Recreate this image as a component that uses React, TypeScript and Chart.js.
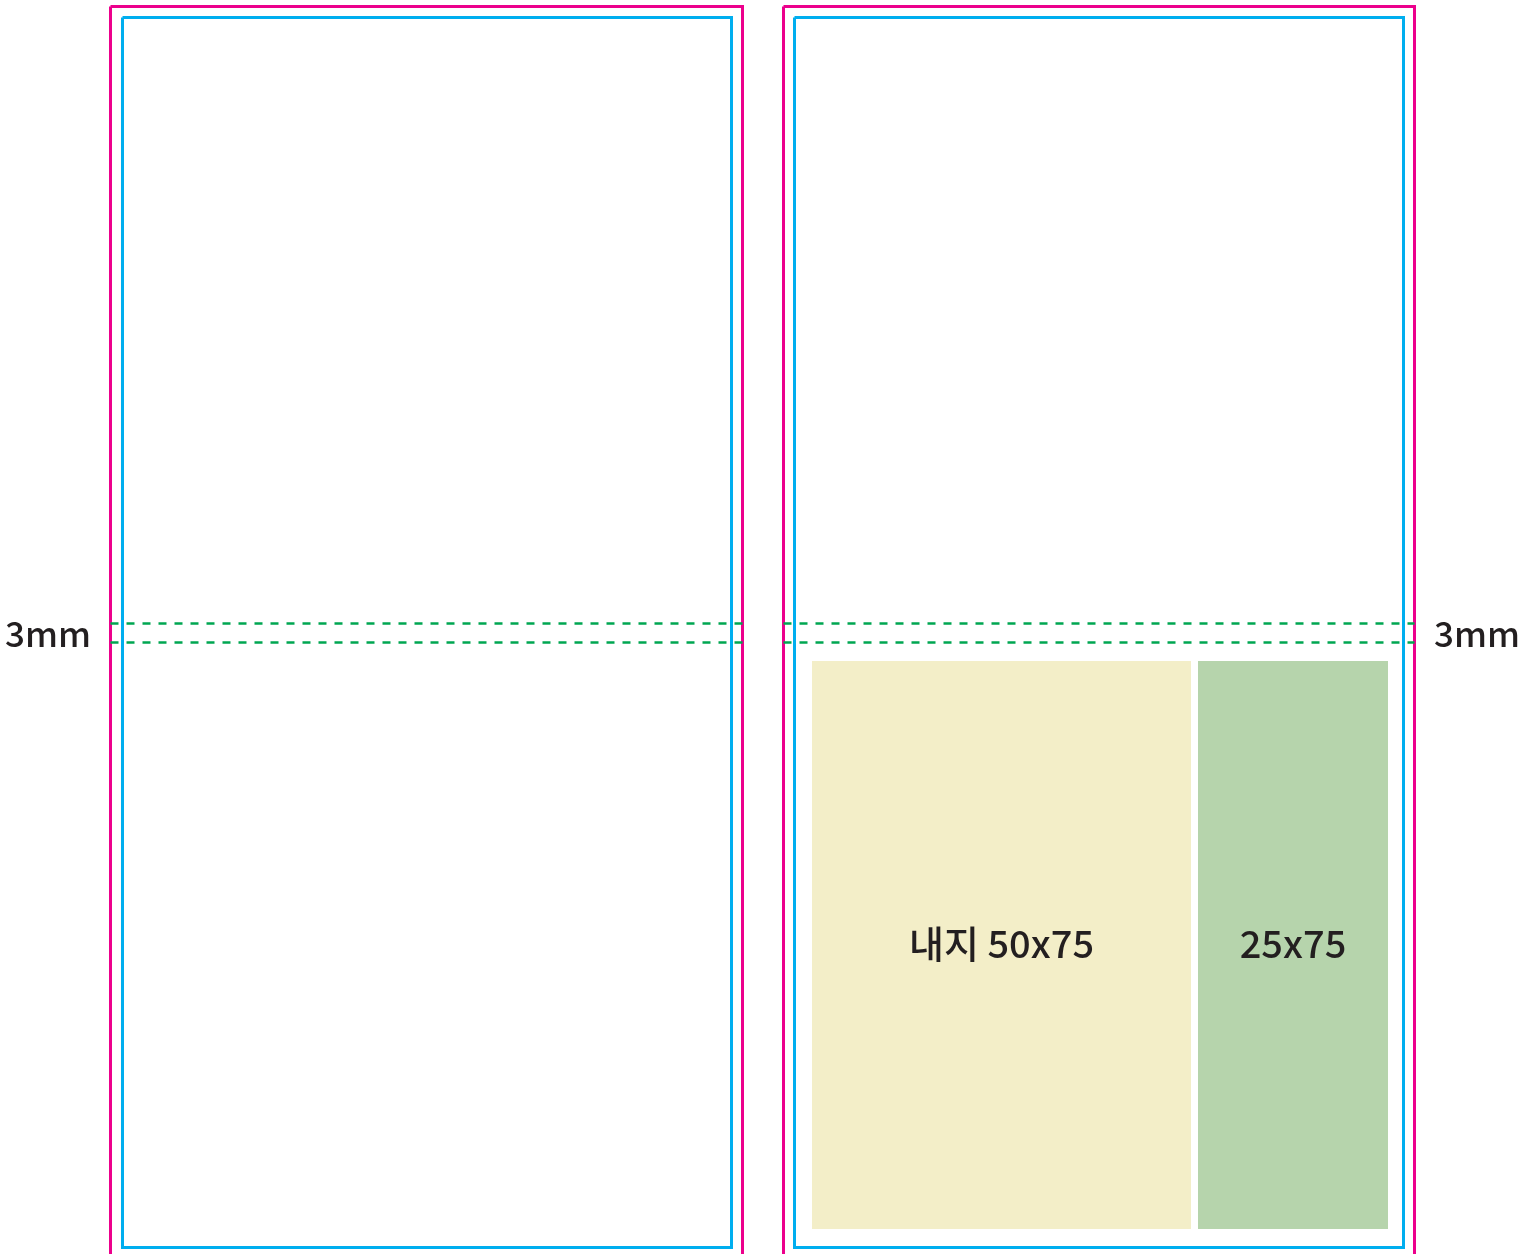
import React, { useEffect, useRef } from "react";
import { Chart, registerables } from "chart.js";

Chart.register(...registerables);

// Page layout values (x, y in page units; y grows downward)
const panelNames = ["left", "right"];
const bleedX0 = [110.5, 783.5];
const bleedX1 = [742.5, 1414.5];
const bleedTop = 6.5;
const bleedBottom = 1270;
const trimX0 = [122.5, 794.5];
const trimX1 = [731.5, 1403.5];
const trimTop = 17.5;
const trimBottom = 1247.5;
const foldLinesY = [623.5, 642.5];
const insertNames = ["내지 50x75", "25x75"];
const insertX0 = [812, 1198];
const insertX1 = [1191, 1388];
const insertTop = 661;
const insertBottom = 1229;
const gapLabel = "3mm";
const gapLabelX = [48, 1477];
const gapLabelY = 634;
const insertLabelY = 944;

const MAGENTA = "#EC008C";
const CYAN = "#00AEEF";
const GREEN = "#00A651";
const FILLS = ["#F3EEC8", "#B6D4AC"];
const TEXT = "#231F20";

const rect = (x0: number, x1: number, y0: number, y1: number) => [
  { x: x0, y: y0 },
  { x: x1, y: y0 },
  { x: x1, y: y1 },
  { x: x0, y: y1 },
  { x: x0, y: y0 },
];

export default function App() {
  const ref = useRef<HTMLCanvasElement | null>(null);

  useEffect(() => {
    if (!ref.current) return;
    const datasets: any[] = [];

    insertNames.forEach((name, i) => {
      datasets.push({
        label: name,
        data: rect(insertX0[i], insertX1[i], insertTop, insertBottom),
        showLine: true,
        fill: "shape",
        backgroundColor: FILLS[i],
        borderWidth: 0,
        borderColor: "rgba(0,0,0,0)",
        pointRadius: 0,
        order: 10,
      });
    });

    panelNames.forEach((p, i) => {
      datasets.push({
        label: p + " bleed",
        data: rect(bleedX0[i], bleedX1[i], bleedTop, bleedBottom),
        showLine: true,
        fill: false,
        borderColor: MAGENTA,
        borderWidth: 3,
        pointRadius: 0,
        order: 2,
      });
      datasets.push({
        label: p + " trim",
        data: rect(trimX0[i], trimX1[i], trimTop, trimBottom),
        showLine: true,
        fill: false,
        borderColor: CYAN,
        borderWidth: 3,
        pointRadius: 0,
        order: 2,
      });
      foldLinesY.forEach((y, k) => {
        datasets.push({
          label: p + " fold " + k,
          data: [
            { x: bleedX0[i], y },
            { x: bleedX1[i], y },
          ],
          showLine: true,
          fill: false,
          borderColor: GREEN,
          borderWidth: 2.5,
          borderDash: [8, 8],
          pointRadius: 0,
          order: 1,
        });
      });
    });

    const labelPlugin = {
      id: "labels",
      afterDraw(chart: any) {
        const ctx = chart.ctx;
        const xs = chart.scales.x;
        const ys = chart.scales.y;
        ctx.save();
        ctx.fillStyle = TEXT;
        ctx.textAlign = "center";
        ctx.textBaseline = "middle";
        ctx.font = '500 35px "Noto Sans CJK KR", "Noto Sans", sans-serif';
        gapLabelX.forEach((x) => {
          ctx.fillText(gapLabel, xs.getPixelForValue(x), ys.getPixelForValue(gapLabelY));
        });
        ctx.font = '500 38px "Noto Sans CJK KR", "Noto Sans", sans-serif';
        insertNames.forEach((name, i) => {
          const cx = (insertX0[i] + insertX1[i]) / 2;
          ctx.fillText(name, xs.getPixelForValue(cx), ys.getPixelForValue(insertLabelY));
        });
        ctx.restore();
      },
    };

    const chart = new Chart(ref.current, {
      type: "scatter",
      data: { datasets },
      options: {
        animation: false,
        responsive: false,
        maintainAspectRatio: false,
        devicePixelRatio: 1,
        layout: { padding: 0 },
        plugins: { legend: { display: false }, tooltip: { enabled: false } },
        scales: {
          x: { type: "linear", min: 0, max: 1533, display: false },
          y: { type: "linear", min: 0, max: 1254, reverse: true, display: false },
        },
      },
      plugins: [labelPlugin],
    });
    return () => chart.destroy();
  }, []);

  return (
    <div style={{ position: "absolute", left: 0, top: 0, width: 1533, height: 1254, background: "#fff" }}>
      <canvas ref={ref} width={1533} height={1254} style={{ display: "block" }} />
    </div>
  );
}
